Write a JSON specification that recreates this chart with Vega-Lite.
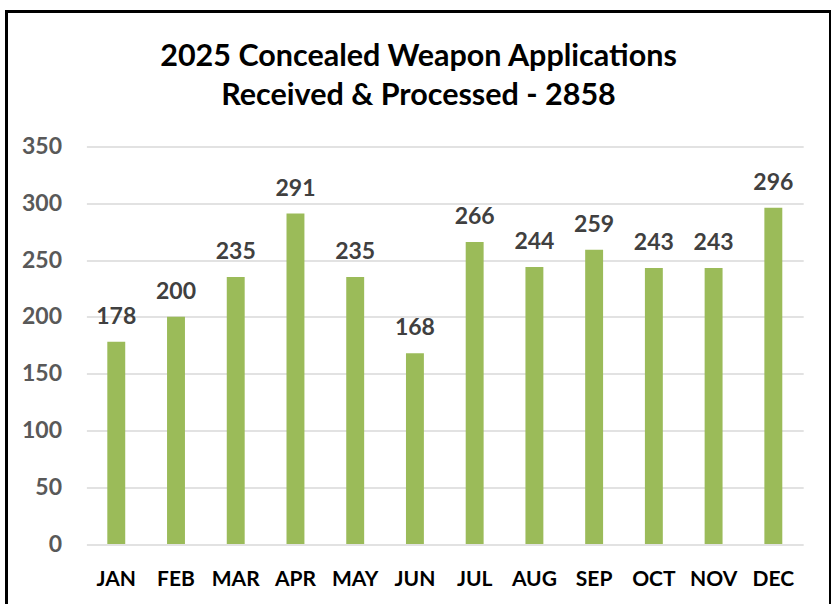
{
  "$schema": "https://vega.github.io/schema/vega-lite/v6.json",
  "autosize": {"type": "none"},
  "padding": {"left": 6.5, "top": 11.5, "right": 0, "bottom": 0},
  "width": 824,
  "height": 600,
  "background": "white",
  "title": {
    "text": ["2025 Concealed Weapon Applications", "Received & Processed - 2858"],
    "font": "Lato",
    "fontSize": 30.5,
    "fontWeight": "bold",
    "color": "#000000",
    "anchor": "middle",
    "lineHeight": 39,
    "offset": -100
  },
  "data": {
    "values": [
      {"month": "JAN", "count": 178},
      {"month": "FEB", "count": 200},
      {"month": "MAR", "count": 235},
      {"month": "APR", "count": 291},
      {"month": "MAY", "count": 235},
      {"month": "JUN", "count": 168},
      {"month": "JUL", "count": 266},
      {"month": "AUG", "count": 244},
      {"month": "SEP", "count": 259},
      {"month": "OCT", "count": 243},
      {"month": "NOV", "count": 243},
      {"month": "DEC", "count": 296}
    ]
  },
  "encoding": {
    "x": {
      "field": "month",
      "type": "nominal",
      "sort": null,
      "scale": {"range": [79.9, 796.7], "paddingInner": 0.7, "paddingOuter": 0.35},
      "axis": {
        "title": null,
        "labelAngle": 0,
        "labelFont": "Lato",
        "labelFontSize": 21,
        "labelFontWeight": "bold",
        "labelColor": "#000000",
        "labelBaseline": "middle",
        "labelPadding": 0,
        "ticks": false,
        "tickSize": 0,
        "domain": false,
        "grid": false,
        "offset": -32.5
      }
    },
    "y": {
      "field": "count",
      "type": "quantitative",
      "scale": {"domain": [0, 350], "range": [532.5, 135], "nice": false, "zero": true},
      "axis": {
        "title": null,
        "values": [0, 50, 100, 150, 200, 250, 300, 350],
        "labelFont": "Lato",
        "labelFontSize": 23,
        "labelFontWeight": "bold",
        "labelColor": "#595959",
        "labelPadding": 3,
        "ticks": false,
        "tickSize": 0,
        "domain": false,
        "grid": true,
        "gridColor": "#D9D9D9",
        "gridWidth": 1.5,
        "offset": -58
      }
    }
  },
  "layer": [
    {"mark": {"type": "bar", "color": "#9BBB59"}},
    {
      "mark": {
        "type": "text",
        "font": "Lato",
        "fontSize": 23,
        "fontWeight": "bold",
        "color": "#404040",
        "baseline": "alphabetic",
        "dy": -18
      },
      "encoding": {"text": {"field": "count", "type": "quantitative"}}
    }
  ],
  "config": {
    "font": "Lato",
    "view": {"stroke": "#000000", "strokeWidth": 3}
  }
}
